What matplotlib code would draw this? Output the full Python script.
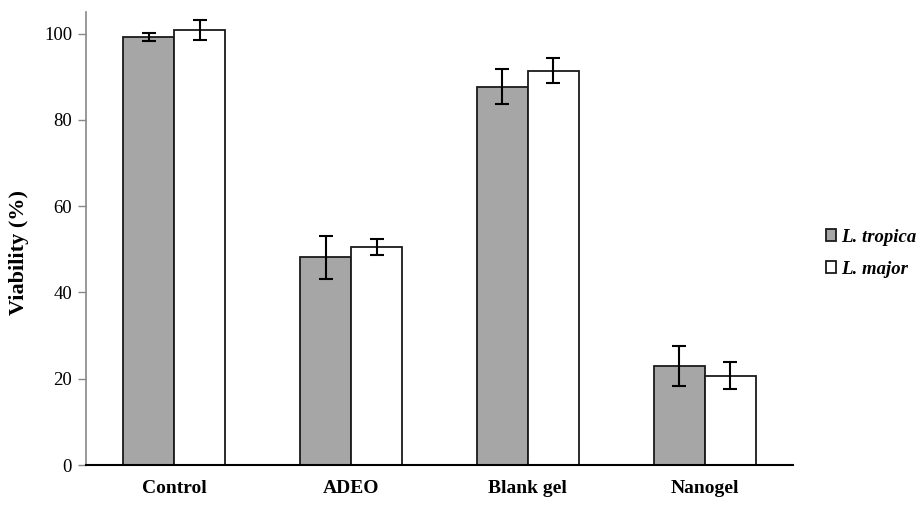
import matplotlib
matplotlib.use("Agg")
import matplotlib.pyplot as plt
import numpy as np

categories = ["Control", "ADEO", "Blank gel", "Nanogel"]
series_names = ["L. tropica", "L. major"]
tropica = [99.2, 48.1, 87.7, 23.0]
tropica_err = [1.0, 5.0, 4.0, 4.6]
major = [100.8, 50.5, 91.4, 20.7]
major_err = [2.4, 1.8, 2.9, 3.1]
yticks = [0, 20, 40, 60, 80, 100]

plt.rcParams['font.family'] = ['Liberation Serif', 'DejaVu Serif']

fig = plt.figure(figsize=(9.22, 5.07), dpi=100)
ax = fig.add_axes([86/922, 1-465/507, (793-86)/922, (465-12)/507])

x = np.arange(len(categories))
w = 0.289
ekw = dict(elinewidth=1.5, capthick=1.5, ecolor='black')
b1 = ax.bar(x - w/2, tropica, w, color='#a6a6a6', edgecolor='#1a1a1a', linewidth=1.3,
            yerr=tropica_err, capsize=5, error_kw=ekw, label=series_names[0], zorder=2)
b2 = ax.bar(x + w/2, major, w, color='white', edgecolor='#1a1a1a', linewidth=1.3,
            yerr=major_err, capsize=5, error_kw=ekw, label=series_names[1], zorder=2)

ax.set_xlim(-0.5, len(categories) - 0.5)
ax.set_ylim(0, 105)
ax.set_yticks(yticks)
ax.set_xticks(x)
ax.set_xticklabels(categories, fontsize=14, fontweight='bold')
ax.tick_params(axis='x', length=0, pad=11)
ax.tick_params(axis='y', length=6, width=1, color='#888888', labelsize=13.5, pad=4)
for s in ['top', 'right']:
    ax.spines[s].set_visible(False)
ax.spines['left'].set_color('#888888')
ax.spines['left'].set_linewidth(1.2)
ax.spines['bottom'].set_color('black')
ax.spines['bottom'].set_linewidth(1.5)
ax.set_ylabel("Viability (%)", fontsize=16, fontweight='bold')
ax.yaxis.set_label_coords(-0.081, 0.47)

leg = fig.legend(handles=[b1, b2], labels=series_names, loc='center left',
                 bbox_to_anchor=(818/922, 1-253/507), frameon=False, borderaxespad=0,
                 prop=dict(family='Liberation Serif', style='italic', weight='bold', size=13.5),
                 handlelength=0.55, handleheight=0.55, handletextpad=0.3, labelspacing=0.8)

fig.savefig("out.png", dpi=100)
